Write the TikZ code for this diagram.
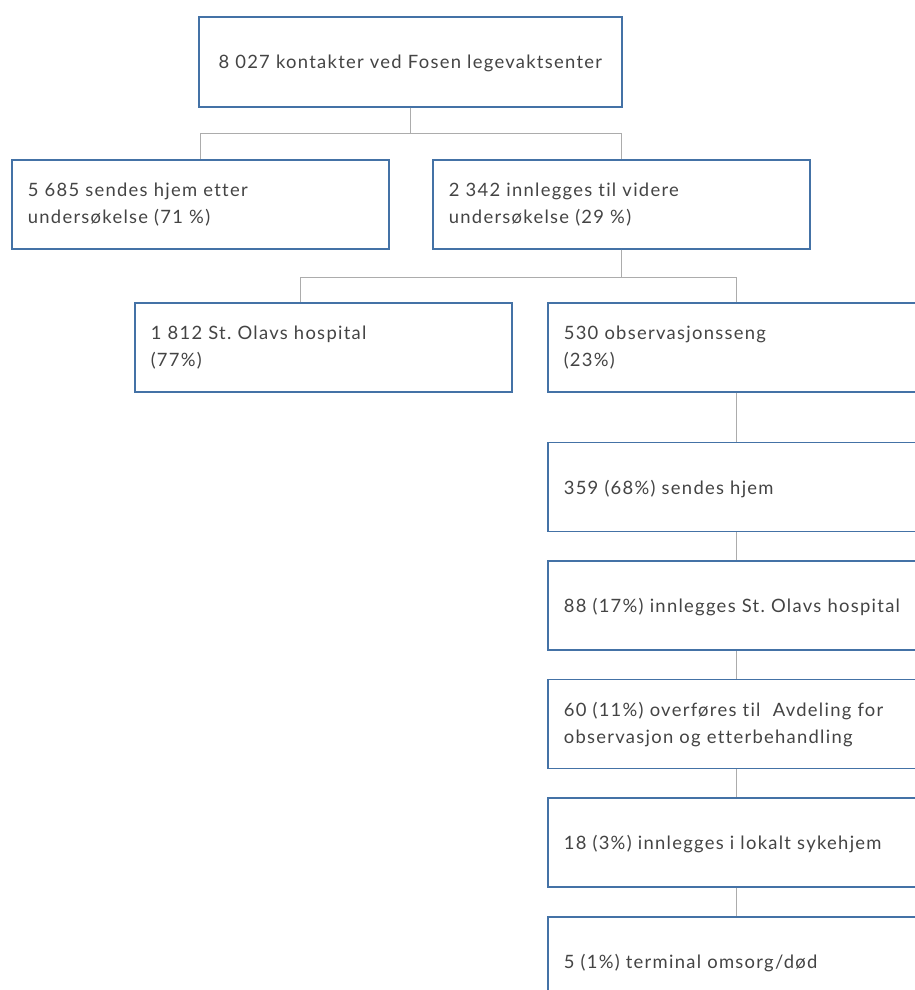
\documentclass[tikz,border=0pt]{standalone}
\usepackage{fontspec}
\setmainfont{Lato}[LetterSpace=7, Ligatures=CommonOff]
\frenchspacing
\usetikzlibrary{positioning}
\tikzstyle{chart} = [x = 1pt, y = -1pt]
\definecolor{boxColor}{RGB}{68,114,166}
\definecolor{linkColor}{RGB}{172,172,172}
\definecolor{labelColor}{RGB}{68,68,68}
\tikzstyle{boxStyle} = [draw=boxColor, line width=1.6pt, fill=white, rectangle, anchor=north west, inner xsep=16pt, inner ysep=0pt, minimum height=89pt, text width=345pt, align=left, text=labelColor, font=\fontsize{18.4}{27}\selectfont]
\tikzstyle{oneLine} = [text depth=0pt]
\tikzstyle{linkStyle} = [draw=linkColor, line width=1.3pt]
\newcommand{\flowBox}[4]{\node [boxStyle] (#1) at (#2, #3) {#4};}
\newcommand{\chainBox}[3]{\node [boxStyle, oneLine, below=28pt of #2] (#1) {#3};}
\begin{document}
\begin{tikzpicture}[chart]
          \useasboundingbox (0,0) rectangle (915,990);
          \clip (0,0) rectangle (915,990);
          \node [boxStyle, oneLine, text width=391pt, minimum height=90pt, align=center] (contacts) at (198,16) {8 027 kontakter ved Fosen legevaktsenter};
          \flowBox{sentHome}{11}{159}{5 685 sendes hjem etter\\undersøkelse (71 \%)}
          \flowBox{admitted}{432}{159}{2 342 innlegges til videre\\undersøkelse (29 \%)}
          \flowBox{olavs}{134}{302}{1 812 St. Olavs hospital\\(77\%)}
          \flowBox{obsBed}{547}{302}{530 observasjonsseng\\(23\%)}
          \node [boxStyle, oneLine, below=49pt of obsBed] (home) {359 (68\%) sendes hjem};
          \chainBox{hospital}{home}{88 (17\%) innlegges St. Olavs hospital}
          \node [boxStyle, below=28pt of hospital] (aftercare) {60 (11\%) overføres til~ Avdeling for\\observasjon og etterbehandling};
          \chainBox{nursing}{aftercare}{18 (3\%) innlegges i lokalt sykehjem}
          \chainBox{terminal}{nursing}{5 (1\%) terminal omsorg/død}

          % branches
          \draw [linkStyle] (contacts.south) -- ++(0,26) -| (sentHome.north);
          \draw [linkStyle] (contacts.south) -- ++(0,26) -| (admitted.north);
          \draw [linkStyle] (admitted.south) -- ++(0,28) -| ([xshift=-23pt]olavs.north);
          \draw [linkStyle] (admitted.south) -- ++(0,28) -| (obsBed.north);
          % chain
          \draw [linkStyle] (obsBed.south) -- (home.north);
          \draw [linkStyle] (home.south) -- (hospital.north);
          \draw [linkStyle] (hospital.south) -- (aftercare.north);
          \draw [linkStyle] (aftercare.south) -- (nursing.north);
          \draw [linkStyle] (nursing.south) -- (terminal.north);
        \end{tikzpicture}
\end{document}
